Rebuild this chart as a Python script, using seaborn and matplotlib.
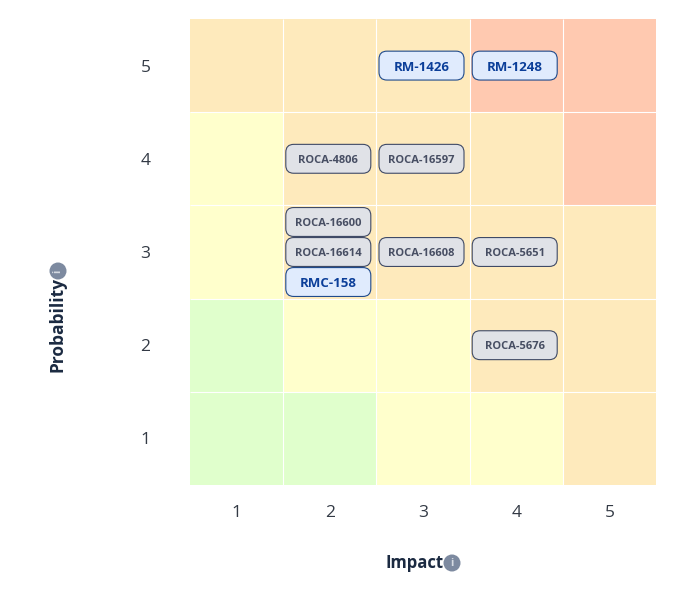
import numpy as np
import pandas as pd
import matplotlib
matplotlib.use("Agg")
import matplotlib.pyplot as plt
import seaborn as sns
from matplotlib.colors import ListedColormap
from matplotlib.patches import Circle, FancyBboxPatch

impact_labels = [1, 2, 3, 4, 5]
prob_labels = [5, 4, 3, 2, 1]

# 0 green, 1 yellow, 2 orange, 3 red
risk_levels = [
    [2, 2, 2, 3, 3],
    [1, 2, 2, 2, 3],
    [1, 2, 2, 2, 2],
    [0, 1, 1, 2, 2],
    [0, 0, 1, 1, 2],
]
level_colors = ["#E0FFCC", "#FFFFCC", "#FEEABC", "#FFC9B0"]

chip_names = ["RM-1426", "RM-1248", "ROCA-4806", "ROCA-16597", "ROCA-16600",
              "ROCA-16614", "RMC-158", "ROCA-16608", "ROCA-5651", "ROCA-5676"]
chip_impact = [3, 4, 2, 3, 2, 2, 2, 3, 4, 4]
chip_prob = [5, 5, 4, 4, 3, 3, 3, 3, 3, 2]

sns.set_theme(style="white")
plt.rcParams["font.family"] = ["Open Sans", "DejaVu Sans"]

W, H = 678, 605
fig = plt.figure(figsize=(W / 100, H / 100), dpi=100)
ax = fig.add_axes([190 / W, 1 - 485 / H, 466 / W, 466 / H])

df = pd.DataFrame(risk_levels, index=prob_labels, columns=impact_labels)
sns.heatmap(df, ax=ax, cmap=ListedColormap(level_colors), vmin=-0.5, vmax=3.5,
            cbar=False, linewidths=0, square=False)
# thin grid only between the cells, the outer edge stays flush
ax.hlines(range(1, 5), 0, 5, color="white", lw=0.8, zorder=2)
ax.vlines(range(1, 5), 0, 5, color="white", lw=0.8, zorder=2)
ax.tick_params(axis="both", length=0, labelsize=12.5, labelcolor="#333a45")
ax.tick_params(axis="x", pad=14.5)
ax.tick_params(axis="y", pad=28.5, labelrotation=0)
for lab in ax.get_yticklabels():
    lab.set_verticalalignment("center_baseline")

# chips, stacked around the middle of their cell
chip_w, chip_h, step = 0.912, 0.31, 0.322
for imp, prob in sorted(set(zip(chip_impact, chip_prob))):
    names = [n for n, i, p in zip(chip_names, chip_impact, chip_prob) if i == imp and p == prob]
    for k, name in enumerate(names):
        cx = imp - 0.5 - 0.016
        cy = 5 - prob + 0.5 + (k - (len(names) - 1) / 2) * step
        is_rm = name.startswith("RM")
        face = "#E0EBFD" if is_rm else "#E0E2E7"
        edge = "#1F4A8C" if is_rm else "#3F4A66"
        color = "#0B3E99" if is_rm else "#474E63"
        ax.add_patch(FancyBboxPatch((cx - chip_w / 2, cy - chip_h / 2), chip_w, chip_h,
                                    boxstyle="round,pad=0,rounding_size=0.085",
                                    fc=face, ec=edge, lw=0.8, zorder=3 + k))
        ax.text(cx, cy, name, ha="center", va="center_baseline", color=color, fontweight="bold",
                fontsize=9.5 if is_rm else 8, zorder=3 + k)

# axis titles with the info badges
title_color = "#1B2A41"
fig.text(414.5 / W, 1 - 563 / H, "Impact", ha="center", va="center",
         fontsize=12, fontweight="bold", color=title_color)
fig.text(58 / W, 1 - 324.5 / H, "Probability", ha="center", va="center", rotation=90,
         fontsize=12.5, fontweight="bold", color=title_color)

overlay = fig.add_axes([0, 0, 1, 1], facecolor="none")
overlay.set_xlim(0, W)
overlay.set_ylim(H, 0)
overlay.axis("off")
overlay.add_patch(Circle((452, 563), 8.5, fc="#7D8AA0", ec="none"))
overlay.text(452, 563, "i", ha="center", va="center", fontsize=8, color="#D5DAE2", fontweight="bold")
overlay.add_patch(Circle((58, 271), 8.5, fc="#7D8AA0", ec="none"))
overlay.text(58, 271, "i", ha="center", va="center", fontsize=8, color="#D5DAE2",
             fontweight="bold", rotation=90)

fig.savefig("out.png", dpi=100, facecolor="white")
